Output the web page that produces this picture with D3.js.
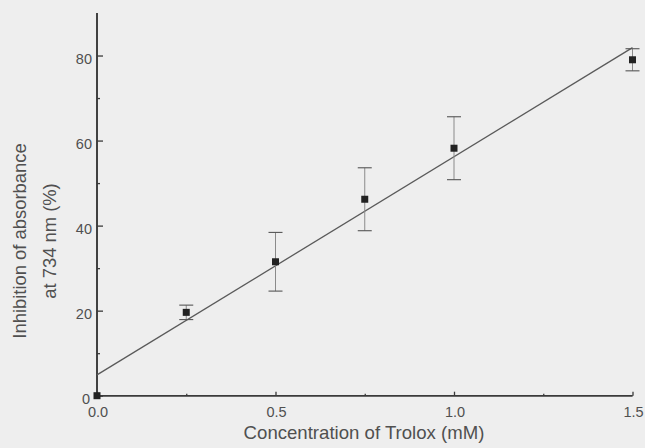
<!DOCTYPE html>
<html>
<head>
<meta charset="utf-8">
<script src="https://cdn.jsdelivr.net/npm/d3@7"></script>
<style>
  html, body { margin: 0; padding: 0; background: #eeeeee; }
  svg { display: block; }
  text { font-family: "Liberation Sans", Arial, sans-serif; fill: #505050; }
</style>
</head>
<body>
<script>
// Trolox calibration: concentration (mM) vs. inhibition of absorbance at 734 nm (%)
const concentration = [0.0, 0.25, 0.5, 0.75, 1.0, 1.5];
const inhibition    = [0.0, 19.6, 31.5, 46.2, 58.2, 79.0];
const errorSD       = [0.0, 1.7, 6.9, 7.4, 7.4, 2.6];

// Least-squares regression line endpoints
const fitX = [0.0, 1.5];
const fitIntercept = 4.9;
const fitSlope = 51.3;

const xMajorTicks = [0.0, 0.5, 1.0, 1.5];
const xMinorTicks = [0.25, 0.75, 1.25];
const yMajorTicks = [0, 20, 40, 60, 80];
const yMinorTicks = [10, 30, 50, 70];

const W = 645, H = 448;
const plotLeft = 97, plotRight = 632.5, plotTop = 13, plotBottom = 395.7;

const svg = d3.select("body").append("svg").attr("width", W).attr("height", H);
svg.append("rect").attr("width", W).attr("height", H).attr("fill", "#eeeeee");

const x = d3.scaleLinear().domain([0, 1.5]).range([plotLeft, plotRight]);
const y = d3.scaleLinear().domain([0, 90]).range([plotBottom, plotTop]);

const axisColor = "#3a3a3a";

// Y axis: major ticks point inward, minor ticks are shorter
const yAxis = svg.append("g").attr("transform", `translate(${plotLeft},0)`)
  .call(d3.axisRight(y).tickValues(yMajorTicks).tickSize(6).tickFormat(""));
const yMinor = svg.append("g").attr("transform", `translate(${plotLeft},0)`)
  .call(d3.axisRight(y).tickValues(yMinorTicks).tickSize(3).tickFormat(""));
[yAxis, yMinor].forEach(g => {
  g.select(".domain").attr("stroke", axisColor).attr("stroke-width", 1.6).attr("d", `M0,${plotBottom}V${plotTop}`);
  g.selectAll(".tick line").attr("stroke", axisColor).attr("stroke-width", 1.3);
});
svg.append("g").selectAll("text").data(yMajorTicks).join("text")
  .attr("x", d => plotLeft - (d === 0 ? 7 : 5)).attr("y", d => y(d) + 8.5)
  .attr("text-anchor", "end").attr("font-size", 14.5)
  .text(d => d);

// X axis: ticks point upward
const xAxis = svg.append("g").attr("transform", `translate(0,${plotBottom})`)
  .call(d3.axisTop(x).tickValues(xMajorTicks).tickSize(4).tickFormat(""));
const xMinor = svg.append("g").attr("transform", `translate(0,${plotBottom})`)
  .call(d3.axisTop(x).tickValues(xMinorTicks).tickSize(2).tickFormat(""));
[xAxis, xMinor].forEach(g => {
  g.select(".domain").attr("stroke", axisColor).attr("stroke-width", 1.6).attr("d", `M${plotLeft},0H${plotRight}`);
  g.selectAll(".tick line").attr("stroke", axisColor).attr("stroke-width", 1.3);
});
svg.append("g").selectAll("text").data(xMajorTicks).join("text")
  .attr("x", d => x(d) + 1).attr("y", 417)
  .attr("text-anchor", "middle").attr("font-size", 14.5)
  .text(d => d.toFixed(1));

// Axis titles
svg.append("text").attr("x", 364).attr("y", 439)
  .attr("text-anchor", "middle").attr("font-size", 18.6)
  .text("Concentration of Trolox (mM)");
const yTitle = svg.append("text").attr("transform", "translate(0,241) rotate(-90)")
  .attr("text-anchor", "middle").attr("font-size", 18.4);
yTitle.append("tspan").attr("x", 0).attr("y", 26).text("Inhibition of absorbance");
yTitle.append("tspan").attr("x", 0).attr("y", 56).text("at 734 nm (%)");

// Regression line
const line = d3.line().x(d => x(d)).y(d => y(fitIntercept + fitSlope * d));
svg.append("path").datum(fitX).attr("d", line)
  .attr("fill", "none").attr("stroke", "#5a5a5a").attr("stroke-width", 1.3);

// Error bars with caps
const pts = concentration.map((c, i) => ({ c, v: inhibition[i], e: errorSD[i] }));
const eb = svg.append("g").attr("stroke", "#555").attr("stroke-width", 1.1);
const withErr = pts.filter(d => d.e > 0);
eb.selectAll("line.v").data(withErr).join("line").attr("class", "v")
  .attr("x1", d => x(d.c)).attr("x2", d => x(d.c))
  .attr("y1", d => y(d.v + d.e)).attr("y2", d => y(d.v - d.e))
  .attr("stroke", "#8a8a8a").attr("stroke-width", 1);
eb.selectAll("line.cap-top").data(withErr).join("line").attr("class", "cap-top")
  .attr("x1", d => x(d.c) - 7).attr("x2", d => x(d.c) + 7)
  .attr("y1", d => y(d.v + d.e)).attr("y2", d => y(d.v + d.e));
eb.selectAll("line.cap-bot").data(withErr).join("line").attr("class", "cap-bot")
  .attr("x1", d => x(d.c) - 7).attr("x2", d => x(d.c) + 7)
  .attr("y1", d => y(d.v - d.e)).attr("y2", d => y(d.v - d.e));

// Square markers
svg.append("g").selectAll("rect").data(pts).join("rect")
  .attr("x", d => x(d.c) - 3.5).attr("y", d => y(d.v) - 3.5)
  .attr("width", 7).attr("height", 7).attr("fill", "#222");
</script>
</body>
</html>
